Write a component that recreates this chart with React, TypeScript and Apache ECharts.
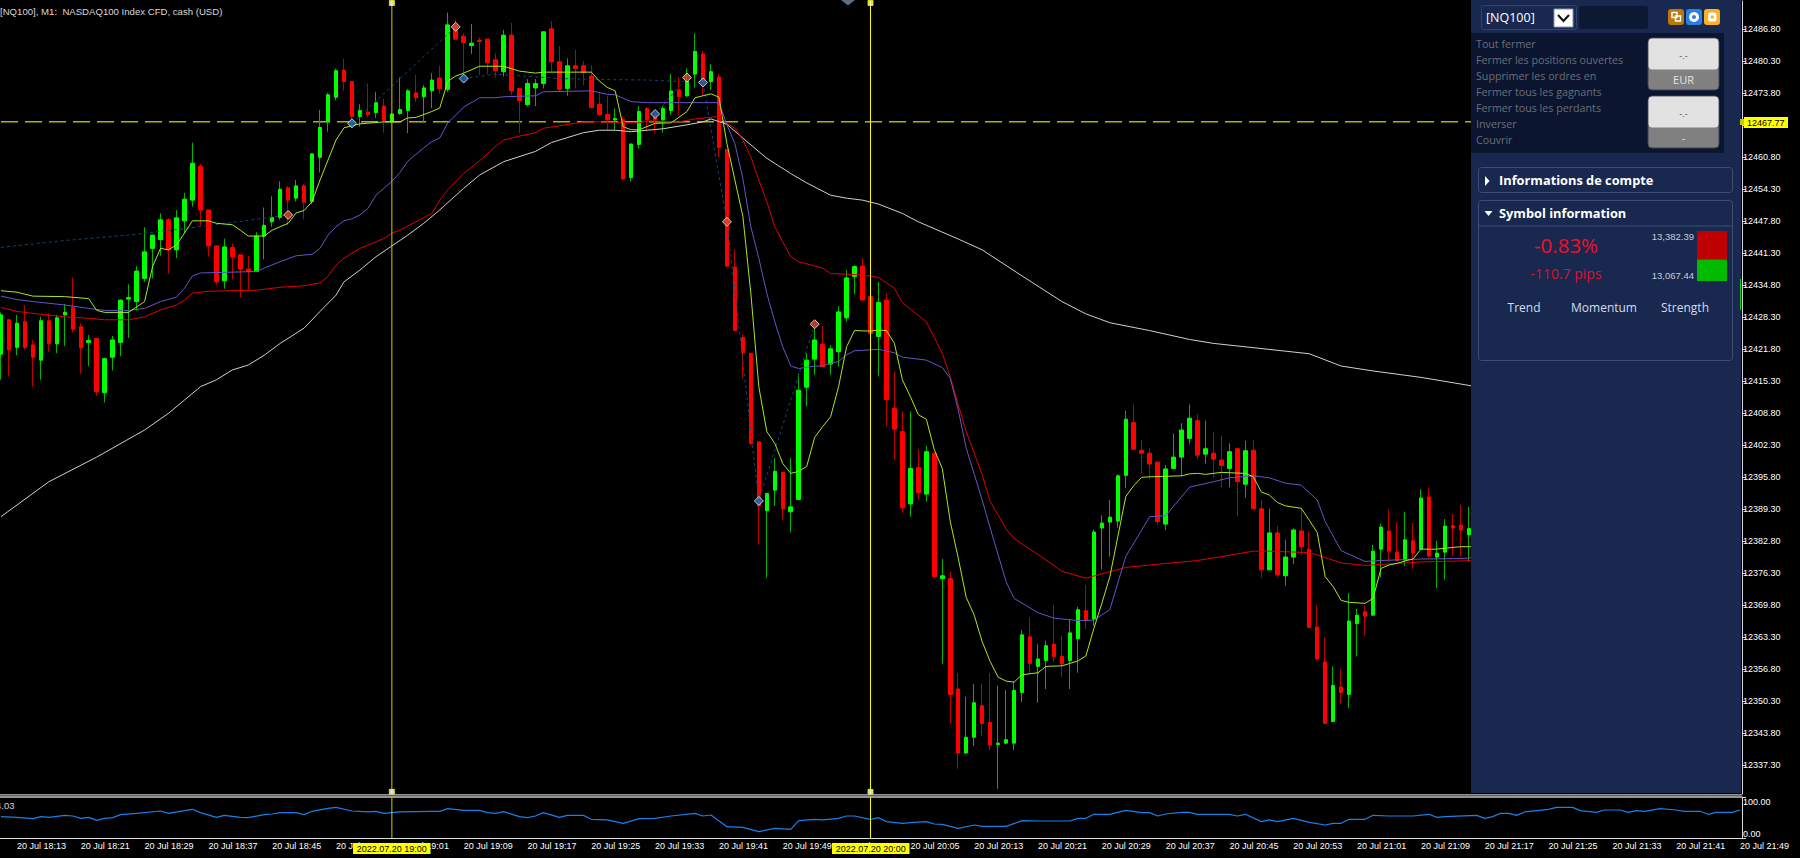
import React, { useEffect, useRef } from "react";
import * as echarts from "echarts";

const opens = [
  12420.8,12427.8,12422.2,12427.4,12422.7,12419.6,12427.6,12422.9,12428.8,12430.3,
  12426.4,12423.2,12424.0,12413.0,12420.2,12423.2,12432.0,12431.5,12436.2,12442.3,
  12444.1,12448.1,12442.0,12447.9,12452.1,12459.0,12450.1,12442.8,12435.7,12442.5,
  12441.0,12438.1,12437.6,12444.8,12447.7,12448.6,12454.6,12452.5,12455.0,12451.8,
  12460.8,12468.0,12473.0,12478.5,12476.2,12469.1,12470.0,12469.9,12471.2,12468.0,
  12469.7,12470.3,12473.9,12473.1,12474.3,12476.9,12474.6,12487.5,12485.4,12483.5,
  12484.6,12484.8,12480.6,12478.2,12485.6,12474.8,12471.5,12474.9,12475.8,12486.9,
  12480.2,12474.8,12479.4,12479.4,12477.3,12471.6,12469.5,12468.4,12468.5,12456.7,
  12463.4,12470.7,12469.4,12468.4,12470.3,12474.5,12473.3,12477.7,12481.8,12476.2,
  12477.1,12462.4,12438.5,12424.2,12421.0,12403.0,12389.0,12393.2,12396.8,12388.8,
  12391.3,12414.1,12419.8,12422.8,12418.8,12421.3,12428.2,12436.6,12438.7,12432.5,
  12424.4,12431.8,12409.8,12405.1,12390.4,12397.8,12392.4,12400.7,12375.2,12375.2,
  12352.8,12339.8,12343.0,12349.4,12346.0,12341.5,12341.8,12341.8,12352.1,12363.4,
  12357.4,12358.6,12361.9,12359.4,12358.6,12363.0,12368.7,12367.0,12385.5,12386.7,
  12386.9,12396.2,12406.9,12401.3,12400.7,12398.9,12386.3,12397.6,12399.9,12403.7,
  12407.3,12400.5,12400.7,12399.3,12397.6,12401.6,12394.4,12401.3,12389.4,12377.0,
  12384.5,12375.8,12379.6,12384.9,12381.2,12365.4,12358.3,12346.2,12353.2,12351.7,
  12366.1,12368.5,12367.8,12381.2,12384.9,12380.6,12379.0,12382.9,12381.2,12391.8,
  12379.6,12380.6,12386.0,12386.1,12384.1,
];
const closes = [
  12428.8,12421.7,12427.1,12422.2,12420.2,12427.6,12423.0,12428.2,12429.3,12425.9,
  12422.1,12423.6,12413.2,12419.9,12423.7,12431.8,12432.3,12437.7,12441.6,12445.0,
  12448.1,12442.0,12448.5,12452.3,12459.6,12450.1,12442.8,12435.5,12442.6,12440.6,
  12438.1,12437.6,12444.8,12447.0,12448.6,12454.3,12452.1,12455.0,12451.7,12461.5,
  12466.9,12473.5,12478.4,12476.2,12469.1,12470.3,12469.5,12471.9,12468.3,12469.6,
  12470.5,12474.3,12472.9,12474.9,12476.5,12474.7,12487.7,12484.8,12484.1,12484.0,
  12484.3,12480.0,12478.4,12485.6,12474.3,12472.3,12475.8,12475.8,12486.3,12480.2,
  12474.6,12479.4,12478.8,12478.0,12470.9,12469.5,12468.4,12468.7,12456.4,12463.5,
  12470.1,12468.4,12468.4,12470.7,12474.3,12473.1,12476.2,12482.3,12476.2,12478.2,
  12462.8,12438.7,12425.6,12421.1,12402.7,12390.0,12392.5,12397.0,12389.4,12389.8,
  12413.5,12419.6,12423.7,12418.3,12421.9,12429.4,12436.3,12438.6,12431.8,12425.0,
  12431.3,12411.6,12405.6,12389.6,12397.6,12392.7,12401.0,12375.6,12375.8,12351.7,
  12339.8,12343.0,12350.0,12345.8,12341.4,12341.8,12342.5,12352.5,12363.8,12358.0,
  12358.9,12361.6,12359.4,12357.9,12364.2,12368.9,12366.7,12384.7,12386.5,12387.7,
  12396.1,12407.6,12401.5,12400.7,12398.5,12386.8,12397.5,12399.9,12405.4,12407.8,
  12400.3,12401.6,12399.5,12398.2,12401.0,12394.9,12401.2,12389.4,12377.0,12384.5,
  12376.0,12379.6,12385.1,12381.7,12365.3,12358.9,12345.8,12353.5,12352.1,12366.6,
  12367.8,12367.6,12380.8,12385.7,12380.8,12378.9,12383.1,12380.4,12391.6,12379.8,
  12380.4,12385.9,12385.5,12385.1,12385.4,
];
const lows = [
  12415.6,12416.3,12420.6,12421.7,12414.2,12415.6,12421.3,12421.0,12422.5,12425.2,
  12416.8,12418.4,12412.4,12411.0,12417.5,12420.4,12424.1,12429.7,12435.5,12436.2,
  12440.8,12437.1,12440.3,12445.4,12450.8,12446.8,12440.6,12434.9,12434.1,12436.0,
  12432.3,12434.0,12437.6,12440.1,12446.7,12448.1,12447.0,12451.8,12448.2,12451.3,
  12457.7,12466.0,12472.4,12474.3,12466.9,12467.0,12468.9,12468.8,12465.8,12467.8,
  12469.4,12465.7,12472.1,12467.8,12470.8,12473.7,12474.1,12484.8,12477.5,12481.8,
  12477.5,12477.7,12477.0,12477.2,12473.5,12465.7,12471.2,12471.2,12474.8,12478.2,
  12474.1,12473.3,12474.8,12475.5,12470.8,12469.3,12466.3,12466.3,12456.2,12455.9,
  12462.6,12466.3,12465.7,12465.8,12469.4,12469.4,12473.1,12475.0,12473.5,12474.5,
  12460.8,12438.6,12425.6,12415.9,12402.4,12382.1,12375.4,12390.0,12387.1,12384.6,
  12391.2,12410.2,12416.6,12418.3,12416.6,12418.3,12427.4,12433.0,12431.8,12425.0,
  12416.3,12406.2,12399.3,12388.6,12387.8,12391.2,12390.9,12375.6,12357.9,12345.8,
  12336.6,12339.6,12341.2,12343.3,12340.3,12332.5,12341.6,12340.4,12350.2,12356.0,
  12350.0,12352.8,12358.4,12355.3,12352.8,12356.1,12365.0,12365.6,12377.1,12379.7,
  12385.6,12393.6,12401.5,12396.6,12395.4,12386.1,12385.1,12397.6,12396.0,12402.5,
  12399.5,12398.6,12395.8,12393.8,12393.8,12387.9,12391.7,12389.4,12375.4,12377.0,
  12375.4,12373.8,12378.2,12380.0,12365.3,12358.6,12345.8,12346.2,12349.9,12348.9,
  12359.4,12363.6,12367.8,12375.5,12378.7,12378.7,12377.8,12377.2,12381.0,12379.4,
  12373.3,12375.0,12379.8,12379.7,12378.7,
];
const highs = [
  12429.3,12427.8,12428.8,12430.8,12423.7,12428.4,12429.1,12428.8,12431.0,12436.4,
  12427.1,12424.7,12424.0,12420.1,12424.5,12431.9,12435.0,12438.7,12446.6,12445.0,
  12449.4,12448.4,12450.1,12453.6,12463.8,12459.5,12450.1,12442.8,12444.3,12443.3,
  12441.0,12440.8,12445.6,12450.6,12452.9,12455.9,12455.0,12456.2,12455.4,12461.6,
  12470.4,12473.9,12478.8,12480.8,12476.2,12471.6,12475.8,12474.1,12472.7,12469.7,
  12477.0,12474.7,12477.5,12475.5,12477.9,12479.4,12490.2,12488.8,12486.0,12487.9,
  12485.2,12484.8,12481.9,12486.7,12488.1,12474.8,12476.7,12476.7,12486.3,12488.5,
  12483.4,12480.9,12482.6,12480.4,12479.5,12473.8,12473.3,12470.7,12469.1,12463.6,
  12471.2,12471.0,12470.1,12471.2,12477.7,12477.0,12478.9,12486.0,12482.4,12479.7,
  12477.7,12462.4,12442.1,12424.9,12421.0,12403.0,12392.5,12399.7,12396.8,12399.7,
  12416.9,12421.0,12426.1,12426.5,12422.7,12430.6,12437.9,12438.9,12440.3,12432.5,
  12435.5,12433.2,12417.3,12409.2,12409.2,12401.5,12402.2,12400.7,12379.2,12376.7,
  12356.0,12351.2,12353.8,12353.8,12356.0,12353.5,12352.6,12354.3,12364.8,12367.3,
  12361.9,12362.6,12369.9,12363.6,12367.0,12369.5,12373.9,12385.2,12388.1,12391.2,
  12396.4,12409.3,12410.6,12403.4,12401.8,12398.9,12398.3,12404.7,12406.8,12410.6,
  12408.6,12407.3,12405.0,12404.2,12402.7,12401.7,12403.2,12403.3,12391.2,12389.4,
  12385.9,12383.1,12385.4,12389.7,12384.7,12369.7,12363.2,12357.4,12356.7,12372.3,
  12369.1,12369.7,12382.1,12386.3,12389.2,12386.7,12388.8,12386.5,12393.4,12393.6,
  12382.9,12387.3,12388.4,12390.2,12389.8,
];

// [candle index, price]
const fastMA = [
  [0,12433.7],[2,12433.4],[4,12432.6],[8,12432.5],[11,12432.1],[12,12429.7],[13,12429.3],[16,12429.3],[18,12431.5],[19,12438.6],
  [20,12442.3],[21,12442.0],[22,12443.0],[23,12445.4],[24,12447.9],[26,12447.9],[27,12447.4],[29,12447.1],[30,12446.0],[31,12444.8],
  [33,12444.8],[34,12446.0],[36,12447.4],[37,12449.5],[38,12450.0],[39,12451.8],[40,12456.2],[42,12464.3],[43,12466.8],[45,12467.6],
  [48,12468.0],[50,12468.0],[51,12468.8],[52,12468.9],[54,12470.1],[55,12470.8],[56,12476.2],[57,12477.3],[58,12477.9],[60,12479.3],
  [63,12479.3],[64,12478.8],[65,12478.3],[67,12477.9],[68,12478.1],[74,12478.1],[75,12476.3],[76,12475.0],[77,12474.3],[78,12467.0],
  [79,12466.4],[80,12466.4],[82,12467.7],[84,12467.8],[86,12470.1],[87,12472.9],[88,12473.3],[89,12473.7],[90,12473.0],[91,12463.6],
  [92,12456.2],[93,12448.8],[94,12433.2],[95,12414.2],[96,12405.1],[97,12402.7],[98,12398.6],[99,12396.6],[100,12397.0],[101,12398.0],
  [102,12403.9],[103,12406.1],[104,12408.1],[105,12414.2],[106,12422.3],[107,12425.6],[109,12425.5],[110,12425.7],[111,12425.6],[112,12423.0],
  [113,12415.6],[114,12412.2],[115,12408.5],[116,12407.6],[117,12401.4],[118,12397.6],[119,12386.8],[120,12379.4],[121,12371.4],[122,12367.8],
  [123,12362.4],[124,12358.4],[125,12355.2],[126,12354.4],[127,12354.2],[128,12355.7],[129,12355.9],[130,12356.1],[131,12357.4],[133,12357.5],
  [134,12358.0],[135,12358.5],[136,12359.5],[137,12365.1],[138,12370.2],[139,12375.6],[140,12383.7],[141,12391.9],[142,12394.1],[143,12395.8],
  [144,12395.9],[148,12396.1],[149,12396.5],[150,12396.6],[151,12396.4],[153,12396.8],[156,12396.6],[157,12395.9],[158,12392.8],[159,12392.2],
  [160,12390.7],[161,12390.0],[163,12389.5],[164,12387.1],[165,12384.6],[166,12375.6],[167,12373.6],[168,12370.8],[169,12370.4],[171,12370.2],
  [172,12371.2],[173,12377.3],[174,12378.0],[175,12378.3],[176,12378.8],[177,12379.2],[178,12381.2],[180,12381.2],[181,12381.4],[183,12381.7],[185,12381.7],
];
const midMA = [
  [0,12432.6],[2,12431.9],[4,12431.5],[8,12430.8],[11,12430.1],[13,12429.7],[16,12429.7],[18,12430.1],[20,12431.5],[22,12432.4],
  [23,12434.2],[24,12436.7],[25,12437.3],[32,12437.6],[33,12438.3],[35,12439.6],[37,12440.8],[39,12441.1],[40,12442.3],[41,12445.0],
  [42,12446.7],[43,12447.9],[44,12448.3],[45,12449.1],[46,12450.4],[47,12453.1],[48,12454.5],[49,12455.9],[50,12457.7],[51,12460.0],
  [52,12461.4],[54,12464.0],[55,12464.7],[56,12467.8],[58,12471.0],[60,12472.9],[62,12472.9],[63,12473.1],[67,12473.3],[68,12474.1],
  [74,12474.3],[76,12473.6],[77,12473.5],[79,12472.1],[81,12471.9],[90,12471.9],[91,12467.4],[92,12463.6],[93,12456.5],[94,12446.7],
  [95,12440.3],[96,12433.2],[97,12427.4],[98,12422.3],[99,12418.4],[100,12417.9],[102,12418.4],[103,12418.4],[104,12419.0],[105,12419.3],
  [106,12420.7],[107,12421.5],[110,12421.8],[112,12421.1],[113,12420.2],[116,12419.6],[118,12418.1],[119,12415.9],[120,12409.5],[121,12401.7],
  [123,12391.2],[124,12385.5],[126,12374.6],[127,12371.2],[130,12368.3],[132,12367.2],[135,12366.7],[137,12366.8],[139,12368.9],[141,12379.7],
  [144,12387.8],[146,12388.0],[149,12393.8],[152,12394.9],[154,12395.7],[157,12396.1],[159,12395.7],[161,12394.6],[163,12394.2],[165,12391.2],
  [166,12386.8],[168,12380.9],[171,12378.7],[173,12378.9],[178,12379.2],[183,12379.3],[185,12379.5],
];
const slowMA = [
  [0,12430.3],[2,12429.5],[4,12429.1],[8,12428.4],[11,12428.1],[13,12427.8],[16,12427.8],[18,12428.4],[20,12429.8],[22,12430.8],
  [23,12431.8],[24,12433.2],[26,12433.6],[32,12433.8],[35,12434.4],[38,12434.7],[40,12435.3],[41,12436.6],[42,12438.9],[43,12440.3],
  [45,12442.3],[48,12444.3],[49,12445.4],[50,12446.0],[52,12447.7],[54,12449.4],[55,12452.1],[56,12454.2],[58,12457.5],[60,12460.1],
  [62,12463.0],[63,12464.3],[65,12465.1],[67,12465.8],[68,12466.7],[70,12467.2],[73,12468.0],[75,12468.0],[80,12467.8],[81,12468.2],
  [85,12468.0],[87,12468.6],[90,12469.1],[91,12467.7],[92,12466.7],[93,12464.3],[94,12460.9],[95,12456.2],[96,12451.8],[97,12446.7],
  [99,12440.6],[100,12439.6],[103,12438.3],[104,12437.2],[108,12436.9],[110,12436.4],[112,12434.2],[113,12431.3],[116,12427.4],[118,12421.0],
  [119,12416.2],[120,12410.5],[121,12405.1],[123,12396.3],[124,12390.9],[126,12385.3],[127,12383.4],[131,12379.0],[133,12376.7],[136,12375.3],
  [141,12377.5],[146,12378.3],[150,12378.9],[153,12379.7],[157,12380.8],[159,12380.8],[164,12380.5],[166,12379.5],[168,12378.4],[171,12377.9],
  [178,12378.6],[185,12378.9],
];
const longMA = [
  [0,12387.8],[6,12394.9],[12,12399.9],[18,12405.4],[21,12408.8],[23,12411.5],[25,12414.2],[27,12415.6],[29,12417.6],[31,12418.6],
  [33,12420.6],[35,12423.0],[38,12426.1],[40,12429.5],[42,12432.8],[43,12435.5],[45,12437.9],[47,12440.6],[49,12442.8],[51,12445.0],
  [53,12447.4],[55,12450.1],[58,12454.5],[60,12457.2],[63,12459.9],[67,12462.0],[69,12463.8],[73,12465.8],[75,12466.3],[77,12466.3],
  [79,12466.0],[83,12466.6],[86,12467.4],[88,12468.0],[89,12468.6],[91,12467.5],[93,12464.7],[96,12460.6],[99,12457.5],[101,12455.6],
  [104,12453.1],[106,12452.5],[108,12452.1],[110,12451.3],[113,12449.4],[115,12447.7],[120,12444.2],[123,12442.0],[128,12436.7],[133,12431.5],
  [136,12429.0],[139,12427.2],[144,12425.6],[149,12423.8],[152,12423.0],[164,12420.9],[168,12418.4],[172,12417.4],[178,12416.1],[185,12414.2],
];
const zigzag = [
  [0,12442.5],[8,12443.9],[16,12445.0],[25,12446.7],[36,12449.1],[36,null],
  [44,12467.7],[57,12487.3],[57,null],
  [58,12476.8],[62,12477.7],[70,12476.8],[75,12476.6],[81,12476.5],[85,12476.2],[85,null],
  [82,12469.6],[86,12477.0],[86,null],
  [88,12476.0],[91,12447.7],[95,12391.0],[102,12426.9],
];
const sellSignals = [[36,12449.1],[57,12487.3],[86,12477.0],[91,12447.7],[102,12426.9]];
const buySignals = [[44,12467.7],[58,12476.8],[82,12469.6],[88,12476.0],[95,12391.0]];

const oscillator = [
  [0,52.1],[2,50.4],[4,47.2],[5,52],[6,50.4],[8,55.3],[9,53.7],[10,48],[11,50.4],[12,43.1],[13,48],[14,49.6],[15,57],[17,60.2],[20,65.9],
  [21,60.2],[23,66.7],[24,70],[25,61.8],[27,50.4],[28,55.3],[30,50.4],[31,49.6],[33,57],[34,58.6],[35,61.8],[37,61.8],[38,57],[39,65.1],
  [41,72.4],[42,74.8],[44,65.9],[46,63.5],[47,65.1],[48,60.2],[50,63.5],[54,65.1],[55,65.1],[56,71.6],[58,67.5],[60,67.5],[61,61.8],[62,60.2],
  [63,64.3],[65,52.1],[66,49.6],[67,53.7],[68,61.8],[70,50.4],[71,55.3],[73,55.3],[74,45.6],[76,44],[78,35.8],[80,47.2],[82,48],[84,53.7],
  [87,60.2],[88,53.7],[89,56.1],[91,27.7],[93,26],[95,15.5],[97,23.6],[99,21.2],[100,42.3],[102,45.6],[103,44],[105,48],[106,53.7],[107,53.7],
  [109,45.6],[110,49.6],[111,39.9],[113,35.8],[114,37.4],[116,39.9],[117,34.2],[118,33.4],[120,23.6],[122,31.7],[123,28.5],[126,28.5],[128,42.3],
  [130,41.5],[134,41.5],[135,48],[136,48],[137,57.8],[139,57.8],[141,67.5],[143,61.8],[144,61.8],[145,53.7],[146,58.6],[148,62.6],[149,62.6],
  [150,57.8],[152,57.8],[154,57.8],[155,53.7],[156,57.8],[158,39.9],[159,44],[160,39.9],[162,48],[164,38.3],[166,31.7],[167,35.8],[168,35.8],
  [169,45.6],[171,45.6],[172,55.3],[174,53.7],[177,53.7],[179,57.8],[180,50.4],[181,52.1],[185,55.3],[186,48],[187,52.1],[188,60.2],[189,60.2],
  [190,55.3],[191,63.5],[194,70],[195,74.8],[197,74.8],[198,66.7],[200,62.6],[201,68.3],[203,68.3],[204,62.6],[205,66.7],[206,65.1],[208,71.6],
  [210,68.3],[211,65.1],[213,65.1],[214,57.8],[215,62.6],[217,62.6],[218,68.3],
];

const priceTicks = [
  12486.8,12480.3,12473.8,12467.3,12460.8,12454.3,12447.8,12441.3,12434.8,12428.3,12421.8,12415.3,
  12408.8,12402.3,12395.8,12389.3,12382.8,12376.3,12369.8,12363.3,12356.8,12350.3,12343.8,12337.3,
];
const timeTicks = [
  "20 Jul 18:13","20 Jul 18:21","20 Jul 18:29","20 Jul 18:37","20 Jul 18:45","20 Jul 18:53","20 Jul 19:01",
  "20 Jul 19:09","20 Jul 19:17","20 Jul 19:25","20 Jul 19:33","20 Jul 19:41","20 Jul 19:49","20 Jul 19:57",
  "20 Jul 20:05","20 Jul 20:13","20 Jul 20:21","20 Jul 20:29","20 Jul 20:37","20 Jul 20:45","20 Jul 20:53",
  "20 Jul 21:01","20 Jul 21:09","20 Jul 21:17","20 Jul 21:25","20 Jul 21:33","20 Jul 21:41","20 Jul 21:49",
];
const bandCount = 219;
const firstTick = 2;
const tickStep = 8;
const categories = Array.from({ length: bandCount }, (_, i) =>
  (i - firstTick) % tickStep === 0 && i >= firstTick ? timeTicks[(i - firstTick) / tickStep] : ""
);
const showTick = (i: number) => i >= firstTick && (i - firstTick) % tickStep === 0;

const currentPriceLevel = 12468.0;
const priceMin = 12331.47;
const priceMax = 12492.55;
const cursors = [
  { index: 49, color: "#d8c800", label: "2022.07.20 19:00" },
  { index: 109, color: "#ffff00", label: "2022.07.20 20:00" },
];
const panelLines = [
  "Tout fermer",
  "Fermer les positions ouvertes",
  "Supprimer les ordres en",
  "Fermer tous les gagnants",
  "Fermer tous les perdants",
  "Inverser",
  "Couvrir",
];

const SANS = '"Open Sans", "Noto Sans", sans-serif';
const NARROW = '"Liberation Sans Narrow", "Liberation Sans", sans-serif';
const ARIAL = '"Liberation Sans", sans-serif';
const PANEL_Z = 100;

const rect = (x: number, y: number, w: number, h: number, fill: string, extra: any = {}, r = 0) => ({
  type: "rect",
  z: PANEL_Z,
  silent: true,
  shape: { x, y, width: w, height: h, r },
  style: { fill, ...extra },
});
const label = (text: string, x: number, y: number, fill: string, font: string, align = "left") => ({
  type: "text",
  z: PANEL_Z + 1,
  silent: true,
  style: { text, x, y, fill, font, textAlign: align, textVerticalAlign: "middle", align, verticalAlign: "middle" },
});
const hline = (x1: number, x2: number, y: number, stroke: string, lineWidth = 1) => ({
  type: "line",
  z: PANEL_Z,
  silent: true,
  shape: { x1, y1: y, x2, y2: y },
  style: { stroke, lineWidth },
});
const poly = (points: number[][], fill: string) => ({
  type: "polygon",
  z: PANEL_Z + 1,
  silent: true,
  shape: { points },
  style: { fill },
});

function buildGraphics() {
  const out: any[] = [];
  // side panel
  out.push(rect(1471, 0, 270, 793, "#18284f"));
  out.push(rect(1471, 33, 253, 120, "#0b1530"));
  // selector row
  out.push(rect(1481.5, 5.5, 95, 24, "#18284f", { stroke: "#33436a", lineWidth: 1 }, 2));
  out.push(label("[NQ100]", 1486, 17, "#ffffff", `12.5px ${SANS}`));
  out.push(rect(1554, 9, 19, 18, "#ffffff", { stroke: "#8a93a8", lineWidth: 1 }));
  out.push({
    type: "polyline",
    z: PANEL_Z + 1,
    silent: true,
    shape: { points: [[1558, 15], [1563.5, 21], [1569, 15]] },
    style: { stroke: "#111111", lineWidth: 2, fill: "none" },
  });
  out.push(rect(1579, 6, 69, 23, "#0d1834", {}, 3));
  out.push(rect(1668, 9, 16, 16, "#b87a0c", {}, 3));
  out.push(rect(1686, 9, 16, 16, "#2a7fe6", {}, 3));
  out.push(rect(1704, 9, 16, 16, "#fdb022", {}, 3));
  out.push(rect(1672, 12.5, 5, 5, "none", { stroke: "#ffffff", lineWidth: 1.4 }));
  out.push(rect(1675.5, 16, 5, 5, "none", { stroke: "#ffffff", lineWidth: 1.4 }));
  out.push({
    type: "ring",
    z: PANEL_Z + 1,
    silent: true,
    shape: { cx: 1694, cy: 17, r: 5, r0: 2 },
    style: { fill: "#ffffff" },
  });
  out.push(rect(1708, 12.5, 8.5, 9, "#ffffff", {}, 2));
  out.push(rect(1710.8, 15.5, 3, 3, "#fdb022"));
  // action list
  panelLines.forEach((t, i) => out.push(label(t, 1476, 44 + 16 * i, "#6a6e78", `10.7px ${SANS}`)));
  // quote buttons
  [
    [38, "EUR"],
    [96, "-"],
  ].forEach(([y, t]: any) => {
    out.push(rect(1648, y, 71, 52, "#808080", { stroke: "#3a4356", lineWidth: 1 }, 4));
    out.push(rect(1648.5, y + 0.5, 70, 31, "#e2e2e2", {}, 4));
    out.push(label("-.-", 1683.5, y + 18, "#555555", `9px ${ARIAL}`, "center"));
    out.push(label(t, 1683.5, y + 41, "#e4e4e4", `11px ${SANS}`, "center"));
  });
  // accordions
  out.push(rect(1478.5, 167.5, 254, 25, "none", { stroke: "#3d4d75", lineWidth: 1 }, 3));
  out.push(poly([[1485, 176], [1485, 186], [1489.5, 181]], "#ffffff"));
  out.push(label("Informations de compte", 1499, 180, "#ffffff", `bold 12.8px ${SANS}`));
  out.push(rect(1478.5, 200.5, 254, 160, "none", { stroke: "#3d4d75", lineWidth: 1 }, 3));
  out.push(hline(1479, 1732, 226, "#3d4d75"));
  out.push(poly([[1484.5, 211], [1492.5, 211], [1488.5, 216]], "#ffffff"));
  out.push(label("Symbol information", 1499, 212.5, "#ffffff", `bold 12.8px ${SANS}`));
  out.push(label("-0.83%", 1566, 245, "#f0102a", `20.5px ${SANS}`, "center"));
  out.push(label("-110.7 pips", 1566, 273, "#dc1030", `14px ${SANS}`, "center"));
  out.push(label("13,382.39", 1694, 236, "#c8ccd6", `9.5px ${ARIAL}`, "right"));
  out.push(label("13,067.44", 1694, 275, "#c8ccd6", `9.5px ${ARIAL}`, "right"));
  out.push(rect(1697, 231, 30, 28.5, "#bf0000"));
  out.push(rect(1697, 259.5, 30, 21.5, "#00bb00"));
  out.push(label("Trend", 1524, 307.5, "#d5dcec", `12px ${SANS}`, "center"));
  out.push(label("Momentum", 1604, 307.5, "#d5dcec", `12px ${SANS}`, "center"));
  out.push(label("Strength", 1685, 307.5, "#d5dcec", `12px ${SANS}`, "center"));
  // chart furniture
  out.push(label("[NQ100], M1:  NASDAQ100 Index CFD, cash (USD)", 0, 11.5, "#d8d8d8", `9.6px ${ARIAL}`));
  out.push(hline(0, 1742, 794.8, "#c4c4c4", 1.3));
  out.push(hline(0, 1742, 797, "#c4c4c4", 1.3));
  out.push(label("4.03", -4, 805.5, "#d8d8d8", `9.5px ${ARIAL}`));
  out.push(poly([[841, 0], [855, 0], [848, 5.5]], "#5f6f80"));
  // current price tag
  out.push(rect(1744, 117, 44, 11, "#ffff00"));
  out.push(rect(1740, 119, 4, 6, "#c8c800"));
  out.push(label("12467.77", 1747, 122.5, "#000000", `9px ${ARIAL}`));
  out.push({
    type: "line",
    z: PANEL_Z,
    silent: true,
    shape: { x1: 1740.5, y1: 279, x2: 1740.5, y2: 310 },
    style: { stroke: "#00dd00", lineWidth: 1 },
  });
  // cursor date tags
  out.push(rect(353, 843, 77.5, 11, "#ffff00"));
  out.push(label(cursors[0].label, 391.7, 848.5, "#000000", `9px ${NARROW}`, "center"));
  out.push(rect(832, 843, 77.5, 11, "#ffff00"));
  out.push(label(cursors[1].label, 870.7, 848.5, "#000000", `9px ${NARROW}`, "center"));
  return out;
}

const lineSeries = (name: string, data: any[], color: string, z: number, extra: any = {}) => ({
  name,
  type: "line",
  xAxisIndex: 0,
  yAxisIndex: 0,
  data,
  z,
  silent: true,
  symbol: "none",
  connectNulls: false,
  lineStyle: { color, width: 1 },
  ...extra,
});

export default function App() {
  const ref = useRef<HTMLDivElement>(null);
  useEffect(() => {
    document.body.style.margin = "0";
    document.body.style.background = "#000";
    const chart = echarts.init(ref.current!, undefined, { renderer: "svg" });
    const full = opens.map((o, i) => [o, closes[i], lows[i], highs[i]]);
    const bodies = opens.map((o, i) => [o, closes[i], Math.min(o, closes[i]), Math.max(o, closes[i])]);
    chart.setOption({
      animation: false,
      backgroundColor: "#000000",
      grid: [
        { left: -3, top: 1, width: 1747, height: 793, outerBoundsMode: "none" },
        { left: -3, top: 797, width: 1747, height: 41, outerBoundsMode: "none" },
      ],
      xAxis: [
        {
          gridIndex: 0,
          type: "category",
          data: categories,
          show: false,
        },
        {
          gridIndex: 1,
          type: "category",
          data: categories,
          axisLine: { lineStyle: { color: "#e0e0e0", width: 1 } },
          axisTick: {
            alignWithLabel: true,
            interval: showTick,
            length: 4,
            lineStyle: { color: "#e0e0e0", width: 1 },
          },
          axisLabel: {
            interval: showTick,
            align: "left",
            margin: 3,
            color: "#ffffff",
            fontFamily: "Liberation Sans Narrow, Liberation Sans, sans-serif",
            fontSize: 9,
            hideOverlap: false,
          },
          splitLine: { show: false },
        },
      ],
      yAxis: [
        {
          gridIndex: 0,
          type: "value",
          position: "right",
          offset: -2,
          min: priceMin,
          max: priceMax,
          axisLine: { show: true, lineStyle: { color: "#d8d8d8", width: 1 } },
          axisTick: { show: true, length: 4, customValues: priceTicks, lineStyle: { color: "#d8d8d8" } },
          axisLabel: {
            customValues: priceTicks,
            formatter: (v: number) => v.toFixed(2),
            color: "#ffffff",
            fontFamily: "Liberation Sans, sans-serif",
            fontSize: 9,
            margin: 1,
          },
          splitLine: { show: false },
        },
        {
          gridIndex: 1,
          type: "value",
          position: "right",
          offset: -2,
          min: 0,
          max: 100,
          axisLine: { show: true, lineStyle: { color: "#d8d8d8", width: 1 } },
          axisTick: { show: true, length: 4, customValues: [0, 100], lineStyle: { color: "#d8d8d8" } },
          axisLabel: {
            customValues: [0, 100],
            formatter: (v: number) => v.toFixed(2),
            color: "#ffffff",
            fontFamily: "Liberation Sans, sans-serif",
            fontSize: 9,
            margin: 1,
            verticalAlignMaxLabel: "top",
            verticalAlignMinLabel: "bottom",
          },
          splitLine: { show: false },
        },
      ],
      graphic: { elements: buildGraphics() },
      series: [
        lineSeries("Current price", [[0, currentPriceLevel], [185, currentPriceLevel]], "#b4b400", 1, {
          lineStyle: { color: "#b4b400", width: 1.5, type: [17, 7] },
        }),
        {
          name: "Range",
          type: "candlestick",
          xAxisIndex: 0,
          yAxisIndex: 0,
          data: full,
          z: 2,
          silent: true,
          barWidth: 1,
          itemStyle: { color: "#00b400", color0: "#c00000", borderColor: "#00b400", borderColor0: "#c00000", borderWidth: 1 },
        },
        {
          name: "NQ100",
          type: "candlestick",
          xAxisIndex: 0,
          yAxisIndex: 0,
          data: bodies,
          z: 3,
          silent: true,
          barWidth: 4,
          itemStyle: { color: "#00ff00", color0: "#ff0000", borderColor: "#00ff00", borderColor0: "#ff0000", borderWidth: 1 },
        },
        lineSeries("Zigzag", zigzag, "#0f4678", 4, { lineStyle: { color: "#0f4678", width: 1, type: [3, 3] } }),
        lineSeries("Long MA", longMA, "#d0d0d0", 4),
        lineSeries("Slow MA", slowMA, "#e00000", 4),
        lineSeries("Mid MA", midMA, "#6455c8", 4),
        lineSeries("Fast MA", fastMA, "#a8e820", 4),
        {
          name: "Sell",
          type: "scatter",
          xAxisIndex: 0,
          yAxisIndex: 0,
          data: sellSignals,
          z: 5,
          silent: true,
          symbol: "diamond",
          symbolSize: 9,
          itemStyle: { color: "#e8452c", borderColor: "#f0f0f0", borderWidth: 1 },
        },
        {
          name: "Buy",
          type: "scatter",
          xAxisIndex: 0,
          yAxisIndex: 0,
          data: buySignals,
          z: 5,
          silent: true,
          symbol: "diamond",
          symbolSize: 9,
          itemStyle: { color: "#1c6fb5", borderColor: "#f0f0f0", borderWidth: 1 },
        },
        ...cursors.map((c) =>
          lineSeries(`Cursor ${c.index}`, [[c.index, priceMin], [c.index, priceMax]], c.color, 6, {
            lineStyle: { color: c.color, width: 1 },
          })
        ),
        {
          name: "Cursor handles",
          type: "scatter",
          xAxisIndex: 0,
          yAxisIndex: 0,
          data: cursors.flatMap((c) => [[c.index, 12492.14], [c.index, 12331.9]]),
          z: 7,
          silent: true,
          symbol: "rect",
          symbolSize: 5,
          itemStyle: { color: "#ffffff", borderColor: "#ffff00", borderWidth: 1 },
        },
        {
          name: "Oscillator",
          type: "line",
          xAxisIndex: 1,
          yAxisIndex: 1,
          data: oscillator,
          z: 3,
          silent: true,
          symbol: "none",
          lineStyle: { color: "#1a80e8", width: 1.2 },
        },
        ...cursors.map((c) => ({
          name: `Cursor ${c.index} lower`,
          type: "line",
          xAxisIndex: 1,
          yAxisIndex: 1,
          data: [[c.index, 0], [c.index, 100]],
          z: 4,
          silent: true,
          symbol: "none",
          lineStyle: { color: c.color, width: 1 },
        })),
      ],
    });
    return () => chart.dispose();
  }, []);
  return <div ref={ref} style={{ position: "absolute", left: 0, top: 0, width: 1800, height: 858 }} />;
}
